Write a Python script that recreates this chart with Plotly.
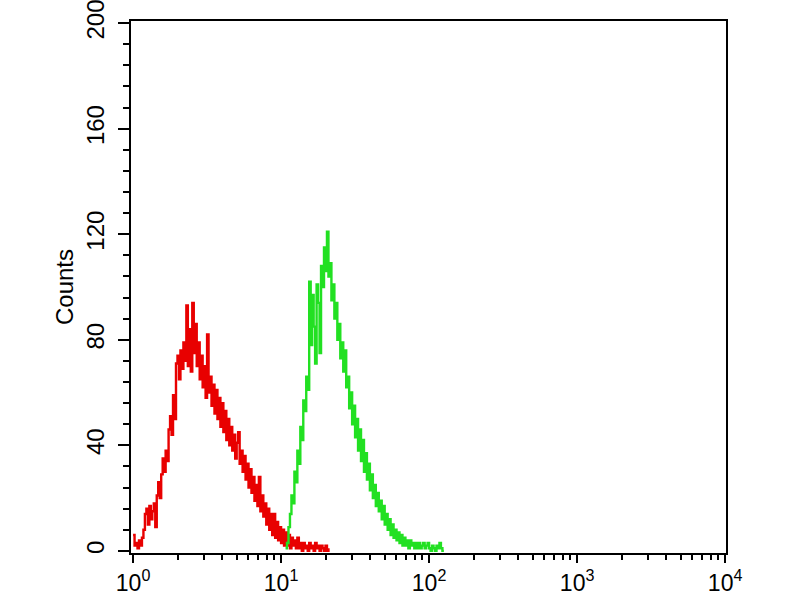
import numpy as np
import plotly.graph_objects as go

# Histogram channel layout (log10 decades)
red_start, green_start, chan_step = 0.00, 1.03, 0.01

red_counts = [
    6, 2, 3, 1, 4, 2, 5,
    8, 14, 16, 10, 17, 12, 15, 18, 9,
    21, 26, 20, 29,
    35, 30, 38, 34,
    46, 51, 44, 59,
    50, 71, 74, 65,
    76, 69, 79, 72,
    93, 70, 84, 68, 94, 75, 86, 70, 79, 65,
    74, 62, 70, 58, 82, 60, 66, 55, 63, 52,
    61, 50, 58, 47, 56, 45, 53, 42, 50, 40,
    47, 38, 44, 35, 41, 45, 33, 38, 30, 36,
    27, 33, 24, 31, 22, 28, 19, 25, 17, 28,
    15, 21, 13, 18, 10, 16, 8, 14, 6, 14,
    5, 11, 4, 9, 3, 8, 2, 7, 2, 6,
    1, 5, 2, 4, 1, 5, 1, 3, 0, 3,
    1, 2, 0, 3, 1, 2, 0, 3, 1, 2,
    0, 2, 1, 0, 2, 0, 1,
]

green_counts = [
    1, 3, 9, 14, 21, 18, 30, 26, 38, 33,
    47, 42, 57, 53, 66, 61, 102, 78, 97, 85,
    71, 101, 94, 75, 108, 100, 115, 106, 121, 104,
    109, 95, 101, 88, 94, 80, 86, 73, 79, 68,
    76, 62, 66, 54, 60, 48, 55, 43, 50, 38,
    46, 34, 42, 30, 37, 27, 33, 23, 29, 20,
    25, 17, 22, 15, 19, 12, 17, 10, 14, 8,
    12, 6, 10, 5, 8, 4, 7, 3, 6, 2,
    5, 2, 4, 1, 4, 2, 3, 1, 3, 1,
    3, 1, 2, 3, 1, 2, 3, 1, 0, 2,
    1, 0, 2, 1, 3, 1, 0, 0,
]

x_tickvals = [1, 10, 100, 1000, 10000]
x_ticktext = ["10<sup>0</sup>", "10<sup>1</sup>", "10<sup>2</sup>",
              "10<sup>3</sup>", "10<sup>4</sup>"]
y_tickvals = [0, 40, 80, 120, 160, 200]

red_x = 10 ** (red_start + chan_step * np.arange(len(red_counts)))
green_x = 10 ** (green_start + chan_step * np.arange(len(green_counts)))

minor_x = [k * 10 ** e for e in range(4) for k in range(2, 10)]

fig = go.Figure()
fig.add_trace(go.Scatter(x=red_x, y=red_counts, mode="lines",
                         line=dict(color="#e80000", width=2.4, shape="hv"),
                         showlegend=False))
fig.add_trace(go.Scatter(x=green_x, y=green_counts, mode="lines",
                         line=dict(color="#22e022", width=2.4, shape="hv"),
                         showlegend=False))

font = "Liberation Sans, Arial, sans-serif"
fig.update_layout(
    width=800, height=600,
    margin=dict(l=131, r=74, t=21, b=47),
    paper_bgcolor="white", plot_bgcolor="white",
    font=dict(family=font, color="black"),
    xaxis=dict(
        type="log", range=[-0.014, 4.006],
        tickmode="array", tickvals=x_tickvals, ticktext=x_ticktext,
        tickfont=dict(size=23, family=font, color="black"),
        ticks="outside", ticklen=8, tickwidth=2, tickcolor="black",
        minor=dict(tickvals=minor_x, ticks="outside", ticklen=5,
                   tickwidth=1.5, tickcolor="black"),
        showline=True, linecolor="black", linewidth=2, mirror=True,
        showgrid=False, zeroline=False, automargin=False,
        ticklabeloverflow="allow",
    ),
    yaxis=dict(
        range=[-0.8, 200.8],
        tickmode="array", tickvals=y_tickvals,
        tickangle=-90,
        tickfont=dict(size=24, family=font, color="black"),
        ticks="outside", ticklen=11, tickwidth=2, tickcolor="black",
        ticklabelstandoff=4,
        minor=dict(dtick=8, tick0=0, ticks="outside", ticklen=6,
                   tickwidth=1.5, tickcolor="black"),
        showline=True, linecolor="black", linewidth=2, mirror=True,
        showgrid=False, zeroline=False, automargin=False,
        ticklabeloverflow="allow",
        title=dict(text="Counts", font=dict(size=24, family=font, color="black"),
                   standoff=2),
    ),
)

fig.write_html("out.html",
               config={"displayModeBar": False},
               post_script="document.body.style.margin='0';")
